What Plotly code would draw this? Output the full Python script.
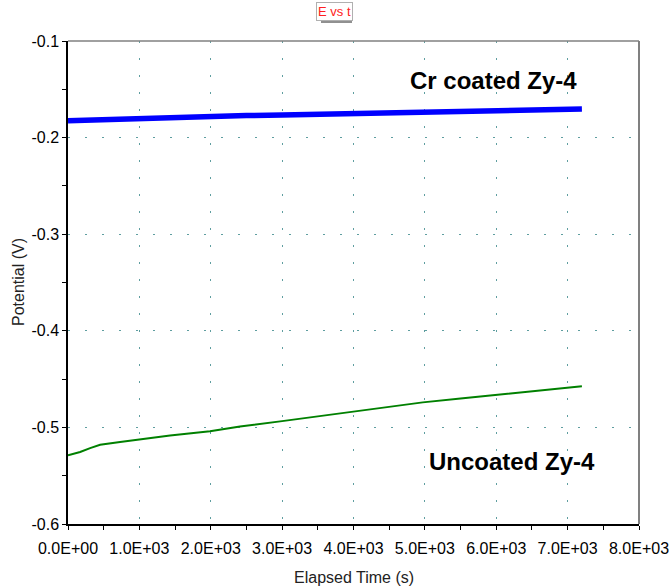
import plotly.graph_objects as go

# ---- data ----
cr_time = [0, 500, 1000, 1500, 2000, 2500, 3000, 3500, 4000, 4500, 5000, 5500, 6000, 6500, 7000, 7200]
cr_potential = [-0.1825, -0.1812, -0.1797, -0.1790, -0.1780, -0.1772, -0.1765, -0.1758, -0.1750, -0.1742,
                -0.1735, -0.1728, -0.1720, -0.1714, -0.1708, -0.1705]

un_time = [0, 170, 310, 450, 730, 1010, 1430, 1990, 2410, 3000, 3500, 4000, 4370, 4970, 5500, 6010, 6500, 7170, 7200]
un_potential = [-0.529, -0.5255, -0.5215, -0.5180, -0.5152, -0.5124, -0.5083, -0.5041, -0.4990, -0.4935,
                -0.4885, -0.4840, -0.4800, -0.4741, -0.4700, -0.4661, -0.4625, -0.4578, -0.4575]

x_tick_vals = [0, 1000, 2000, 3000, 4000, 5000, 6000, 7000, 8000]
x_tick_labels = ["0.0E+00", "1.0E+03", "2.0E+03", "3.0E+03", "4.0E+03", "5.0E+03", "6.0E+03", "7.0E+03", "8.0E+03"]
y_tick_vals = [-0.6, -0.5, -0.4, -0.3, -0.2, -0.1]
y_tick_labels = ["-0.6", "-0.5", "-0.4", "-0.3", "-0.2", "-0.1"]

label_cr = "Cr coated Zy-4"
label_un = "Uncoated Zy-4"
label_cr_pos = (5960, -0.1412)
label_un_pos = (6220, -0.5355)

title_text = "E vs t"
x_title = "Elapsed Time (s)"
y_title = "Potential (V)"

# ---- layout geometry ----
W, H = 669, 587
ML, MR, MT, MB = 68, 30, 41, 63
PW, PH = W - ML - MR, H - MT - MB


def px_to_paper(px, py):
    return (px - ML) / PW, (H - MB - py) / PH


FONT = "Arial, Liberation Sans, sans-serif"
GRID = "#5f9ea0"

fig = go.Figure()
fig.add_trace(go.Scatter(x=cr_time, y=cr_potential, mode="lines",
                         line=dict(color="#0000ff", width=5.5), showlegend=False))
fig.add_trace(go.Scatter(x=un_time, y=un_potential, mode="lines",
                         line=dict(color="#008000", width=2), showlegend=False))

axis_common = dict(
    showline=True, linecolor="black", linewidth=1.5,
    ticks="outside", ticklen=4, tickcolor="black", tickwidth=1,
    showgrid=True, gridcolor=GRID, gridwidth=1, griddash="2px,15px",
    zeroline=False,
    tickfont=dict(family=FONT, size=16, color="black"),
    ticklabeloverflow="allow",
    tickangle=0,
    automargin=False,
)

fig.update_xaxes(
    range=[0, 8000], tickvals=x_tick_vals, ticktext=x_tick_labels,
    minor=dict(dtick=500, tick0=0, ticks="outside", ticklen=4, tickcolor="black", showgrid=False),
    ticklabelstandoff=5,
    **axis_common,
)
fig.update_yaxes(
    range=[-0.6, -0.1], tickvals=y_tick_vals, ticktext=y_tick_labels,
    minor=dict(dtick=0.05, tick0=-0.6, ticks="outside", ticklen=4, tickcolor="black", showgrid=False),
    **axis_common,
)

# axis titles
ytx, yty = px_to_paper(18, 282)
fig.add_annotation(x=ytx, y=yty, xref="paper", yref="paper", text=y_title, showarrow=False,
                   textangle=-90, xanchor="center", yanchor="middle",
                   font=dict(family=FONT, size=16, color="#222"))
xtx, xty = px_to_paper(353.5, 577)
fig.add_annotation(x=xtx, y=xty, xref="paper", yref="paper", text=x_title, showarrow=False,
                   xanchor="center", yanchor="middle",
                   font=dict(family=FONT, size=16, color="#222"))

# top and right border (gray)
fig.add_shape(type="line", xref="paper", yref="paper", x0=0, x1=1, y0=1, y1=1,
              line=dict(color="#808080", width=1.5))
fig.add_shape(type="line", xref="paper", yref="paper", x0=1, x1=1, y0=0, y1=1,
              line=dict(color="#808080", width=2))

# curve labels
fig.add_annotation(x=label_cr_pos[0], y=label_cr_pos[1], text=f"<b>{label_cr}</b>", showarrow=False,
                   font=dict(family=FONT, size=24, color="black"))
fig.add_annotation(x=label_un_pos[0], y=label_un_pos[1], text=f"<b>{label_un}</b>", showarrow=False,
                   font=dict(family=FONT, size=24, color="black"))

# title box with shadow
sx0, sy0 = px_to_paper(321, 23)
sx1, sy1 = px_to_paper(352, 6)
fig.add_shape(type="rect", xref="paper", yref="paper", x0=sx0, x1=sx1, y0=sy0, y1=sy1,
              line=dict(width=0), fillcolor="#909090", layer="above")
tx, ty = px_to_paper(334, 12)
fig.add_annotation(x=tx, y=ty, xref="paper", yref="paper", text=title_text, showarrow=False,
                   font=dict(family=FONT, size=13, color="#ff2020"),
                   bgcolor="white", bordercolor="#b0b0b0", borderwidth=1, borderpad=1,
                   xanchor="center", yanchor="middle")

fig.update_layout(
    width=W, height=H,
    margin=dict(l=ML, r=MR, t=MT, b=MB, autoexpand=False),
    paper_bgcolor="white", plot_bgcolor="white",
    font=dict(family=FONT),
)

fig.write_html("out.html")
